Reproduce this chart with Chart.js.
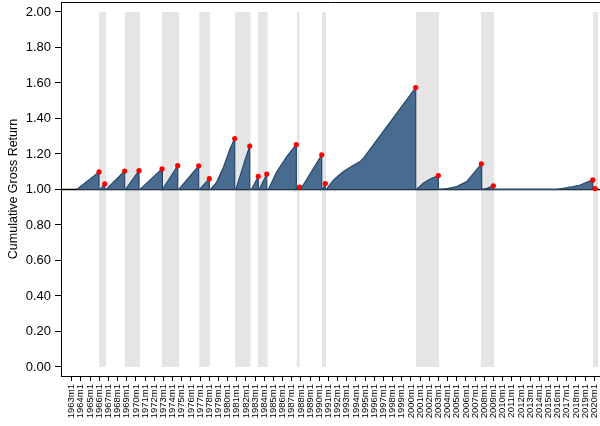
<!DOCTYPE html>
<html>
<head>
<meta charset="utf-8">
<script src="https://cdn.jsdelivr.net/npm/chart.js@4.4.0/dist/chart.umd.min.js"></script>
<style>
  html, body { margin: 0; padding: 0; background: #fff; }
  #c { display: block; }
</style>
</head>
<body>
<canvas id="c" width="600" height="426"></canvas>
<script>
// Shaded periods (decimal years)
const bandStart = [1965.98, 1968.81, 1972.85, 1976.90, 1980.81, 1983.32, 1987.54, 1990.30, 2000.55, 2007.64, 2019.83];
const bandEnd   = [1966.74, 1970.45, 1974.70, 1978.08, 1982.52, 1984.38, 1987.87, 1990.74, 2003.06, 2009.06, 2020.43];

// Cumulative gross return runs: each starts at 1.00 and ends at its marked value
const runYears = [
  [1963.55, 1965.98],
  [1966.10, 1966.60],
  [1966.75, 1968.78],
  [1968.88, 1970.34],
  [1970.45, 1972.85],
  [1972.93, 1974.56],
  [1974.68, 1976.85],
  [1976.95, 1978.01],
  [1978.15, 1978.80, 1979.55, 1980.27, 1980.78],
  [1980.90, 1981.36, 1981.90, 1982.42],
  [1982.60, 1983.35],
  [1983.46, 1984.27],
  [1984.45, 1985.36, 1986.45, 1987.50],
  [1987.58, 1987.85],
  [1987.95, 1990.27],
  [1990.36, 1990.66],
  [1990.78, 1991.20, 1991.60, 1992.60, 1993.50, 1994.45, 1994.85, 2000.52],
  [2000.60, 2001.35, 2002.08, 2002.99],
  [2003.10, 2004.00, 2004.99, 2006.08, 2006.99, 2007.68],
  [2007.75, 2008.30, 2008.99],
  [2009.08, 2015.90, 2016.60, 2017.71, 2018.45, 2019.17, 2019.83],
  [2019.90, 2020.08]
];
const runValues = [
  [1.000, 1.099],
  [1.000, 1.031],
  [1.000, 1.104],
  [1.000, 1.106],
  [1.000, 1.116],
  [1.000, 1.134],
  [1.000, 1.133],
  [1.000, 1.061],
  [1.000, 1.040, 1.125, 1.230, 1.287],
  [1.000, 1.075, 1.165, 1.245],
  [1.000, 1.074],
  [1.000, 1.087],
  [1.000, 1.100, 1.185, 1.253],
  [1.000, 1.014],
  [1.000, 1.195],
  [1.000, 1.033],
  [1.000, 1.030, 1.055, 1.100, 1.130, 1.157, 1.178, 1.574],
  [1.000, 1.035, 1.059, 1.078],
  [1.000, 1.005, 1.016, 1.044, 1.100, 1.145],
  [1.000, 1.006, 1.021],
  [1.000, 1.001, 1.006, 1.016, 1.025, 1.040, 1.054],
  [1.000, 1.005]
];

// Axis ticks
const yTicks = [0, 0.2, 0.4, 0.6, 0.8, 1.0, 1.2, 1.4, 1.6, 1.8, 2.0];
const tickYears = [];
for (let y = 1963; y <= 2020; y++) tickYears.push(y);

const X_MIN = 1961.833, X_MAX = 2020.62;
const Y_MIN = -0.0507, Y_MAX = 2.056;

const FONT = "'Liberation Sans', Arial, Helvetica, sans-serif";
const AREA_FILL = '#486b8f';
const AREA_LINE = '#24476c';

// Path: each run rises to its end value, then drops straight back to 1.00
const path = [];
const peaks = [];
runYears.forEach((yrs, i) => {
  yrs.forEach((t, j) => path.push({ x: t, y: runValues[i][j] }));
  const last = yrs.length - 1;
  peaks.push({ x: yrs[last], y: runValues[i][last] });
  path.push({ x: yrs[last], y: 1.0 });
});
path.push({ x: bandEnd[bandEnd.length - 1], y: 1.0 });

const datasets = [];
bandStart.forEach((s, i) => {
  datasets.push({
    type: 'line',
    data: [{ x: s, y: 2.0 }, { x: bandEnd[i], y: 2.0 }],
    fill: { value: 0 },
    backgroundColor: '#e5e5e5',
    borderWidth: 0,
    pointRadius: 0,
    order: 10
  });
});
datasets.push({
  type: 'line',
  data: [{ x: X_MIN, y: 1.0 }, { x: X_MAX, y: 1.0 }],
  borderColor: '#000',
  borderWidth: 1.6,
  pointRadius: 0,
  fill: false,
  order: 5
});
datasets.push({
  type: 'line',
  data: path,
  fill: { value: 1.0 },
  backgroundColor: AREA_FILL,
  borderColor: AREA_LINE,
  borderWidth: 1.2,
  pointRadius: 0,
  tension: 0,
  order: 2
});
datasets.push({
  type: 'scatter',
  data: peaks,
  backgroundColor: '#ff0000',
  borderWidth: 0,
  pointRadius: 2.6,
  order: 0
});

// Top edge of the plot frame
const frameTop = {
  id: 'frameTop',
  afterDraw(chart) {
    const { ctx, chartArea } = chart;
    ctx.save();
    ctx.strokeStyle = '#000';
    ctx.lineWidth = 1;
    ctx.beginPath();
    ctx.moveTo(chartArea.left, chartArea.top + 0.5);
    ctx.lineTo(chartArea.right, chartArea.top + 0.5);
    ctx.stroke();
    ctx.restore();
  }
};

// Scales keep a fixed size and ask for no extra room at the edges
function fixSize(prop, size) {
  return s => {
    s[prop] = size;
    s.paddingLeft = 0; s.paddingRight = 0; s.paddingTop = 0; s.paddingBottom = 0;
  };
}

new Chart(document.getElementById('c'), {
  type: 'line',
  data: { datasets },
  plugins: [frameTop],
  options: {
    responsive: false,
    animation: false,
    devicePixelRatio: 1,
    layout: { padding: { top: 2, right: 0, left: 0, bottom: 0 }, autoPadding: false },
    plugins: { legend: { display: false }, tooltip: { enabled: false } },
    scales: {
      x: {
        type: 'linear',
        min: X_MIN,
        max: X_MAX,
        afterBuildTicks: s => { s.ticks = tickYears.map(v => ({ value: v })); },
        afterFit: fixSize('height', 50),
        ticks: {
          autoSkip: false,
          minRotation: 90,
          maxRotation: 90,
          padding: 3,
          color: '#000',
          font: { family: FONT, size: 9.5 },
          callback: v => v + 'm1'
        },
        grid: { drawOnChartArea: false, drawTicks: true, tickLength: 5, tickColor: '#000' },
        border: { display: true, color: '#000', width: 1 }
      },
      y: {
        type: 'linear',
        min: Y_MIN,
        max: Y_MAX,
        afterBuildTicks: s => { s.ticks = yTicks.map(v => ({ value: v })); },
        afterFit: fixSize('width', 61),
        ticks: {
          padding: 4,
          color: '#000',
          font: { family: FONT, size: 13 },
          callback: v => Number(v).toFixed(2)
        },
        grid: { drawOnChartArea: false, drawTicks: true, tickLength: 6, tickColor: '#000' },
        border: { display: true, color: '#000', width: 1 },
        title: {
          display: true,
          text: 'Cumulative Gross Return',
          color: '#000',
          font: { family: FONT, size: 12.5 },
          padding: { top: 6, bottom: 0 }
        }
      }
    }
  }
});
</script>
</body>
</html>
